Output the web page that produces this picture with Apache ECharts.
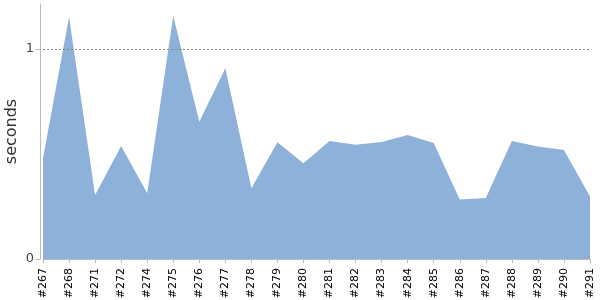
<!DOCTYPE html>
<html>
<head>
<meta charset="utf-8">
<script src="https://cdn.jsdelivr.net/npm/echarts@6/dist/echarts.min.js"></script>
<style>html,body{margin:0;padding:0;background:#fff}#c{width:600px;height:300px}</style>
</head>
<body>
<div id="c"></div>
<script>
var categories = ['#267','#268','#271','#272','#274','#275','#276','#277','#278','#279','#280','#281','#282','#283','#284','#285','#286','#287','#288','#289','#290','#291'];
var seconds = [0.48,1.152,0.305,0.538,0.313,1.157,0.654,0.908,0.337,0.556,0.456,0.562,0.544,0.557,0.590,0.552,0.283,0.290,0.562,0.535,0.519,0.297];
var yTicks = [0, 1];
var refLine = 1;

var chart = echarts.init(document.getElementById('c'), null, {renderer: 'canvas'});
chart.setOption({
  animation: false,
  grid: {left: 43, right: 10, top: 4, bottom: 41, containLabel: false, outerBoundsMode: 'none'},
  xAxis: {
    type: 'category',
    data: categories,
    boundaryGap: false,
    offset: 4,
    axisLine: {show: true, lineStyle: {color: '#bbbbbb', width: 1}},
    axisTick: {show: true, alignWithLabel: true, length: 4, lineStyle: {color: '#bbbbbb'}},
    axisLabel: {rotate: 90, interval: 0, color: '#000', fontSize: 11, fontFamily: 'DejaVu Sans', margin: 5}
  },
  yAxis: {
    type: 'value',
    min: 0,
    max: 1.214,
    interval: 1,
    offset: 3,
    name: 'seconds',
    nameLocation: 'middle',
    nameGap: 20,
    nameMoveOverlap: false,
    nameTextStyle: {fontSize: 16, color: '#333', fontFamily: 'DejaVu Sans'},
    axisLine: {show: true, lineStyle: {color: '#bbbbbb', width: 1}},
    axisTick: {show: true, length: 4, lineStyle: {color: '#bbbbbb'}},
    axisLabel: {color: '#444', fontSize: 13, fontFamily: 'DejaVu Sans', margin: 6, showMaxLabel: false,
      formatter: function(v){ return yTicks.indexOf(v) >= 0 ? String(v) : ''; }},
    splitLine: {show: false}
  },
  series: [{
    type: 'line',
    data: seconds,
    symbol: 'none',
    lineStyle: {width: 0},
    areaStyle: {color: 'rgb(142,177,217)', opacity: 1},
    markLine: {
      silent: true,
      symbol: 'none',
      label: {show: false},
      lineStyle: {type: [2, 2], color: '#888', width: 1},
      data: [{yAxis: refLine}]
    }
  }]
});
</script>
</body>
</html>
